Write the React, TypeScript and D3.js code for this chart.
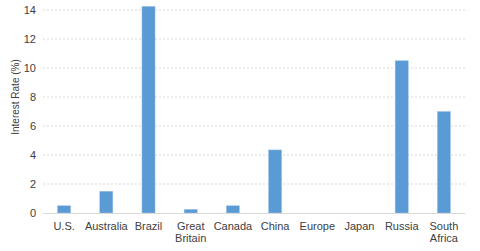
import React from "react";
import * as d3 from "d3";

const categories = ["U.S.", "Australia", "Brazil", "Great Britain", "Canada", "China", "Europe", "Japan", "Russia", "South Africa"];
const labelLines = [["U.S."], ["Australia"], ["Brazil"], ["Great", "Britain"], ["Canada"], ["China"], ["Europe"], ["Japan"], ["Russia"], ["South", "Africa"]];
const rates = [0.5, 1.5, 14.25, 0.25, 0.5, 4.35, 0, 0, 10.5, 7.0];
const yTicks = [0, 2, 4, 6, 8, 10, 12, 14];

export default function App() {
  const W = 480, H = 251;
  const left = 43, right = 465, top = 10, bottom = 213;
  const x = d3.scaleBand<string>().domain(categories).range([left, right]).paddingInner(0.69).paddingOuter(0.345);
  const y = d3.scaleLinear().domain([0, 14]).range([bottom, top]);
  const font = "'Liberation Sans', Arial, sans-serif";
  return (
    <svg width={W} height={H} style={{ position: "absolute", left: 0, top: 0 }} fontFamily={font}>
      {yTicks.map((t) => (
        <g key={t}>
          {t > 0 && (
            <line x1={left} x2={right} y1={y(t)} y2={y(t)} stroke="#d9d9d9" strokeWidth={1} strokeDasharray="2,2" />
          )}
          <text x={36} y={y(t)} dy="0.35em" textAnchor="end" fontSize={11} fill="#404040">{t}</text>
        </g>
      ))}
      {categories.map((c, i) => (
        rates[i] > 0 ? (
          <rect key={c} x={x(c)} y={y(rates[i])} width={x.bandwidth()} height={bottom - y(rates[i])} fill="#5b9bd5" stroke="#9dc3e6" strokeWidth={0.5} />
        ) : null
      ))}
      <line x1={left} x2={right} y1={bottom + 0.5} y2={bottom + 0.5} stroke="#d9d9d9" strokeWidth={1} />
      {categories.map((c, i) => (
        <text key={c} x={(x(c) as number) + x.bandwidth() / 2} y={230} textAnchor="middle" fontSize={11} fill="#404040">
          {labelLines[i].map((l, j) => (
            <tspan key={j} x={(x(c) as number) + x.bandwidth() / 2} dy={j === 0 ? 0 : 12}>{l}</tspan>
          ))}
        </text>
      ))}
      <text transform={`translate(19, 97) rotate(-90)`} textAnchor="middle" fontSize={10} fill="#404040">Interest Rate (%)</text>
    </svg>
  );
}
